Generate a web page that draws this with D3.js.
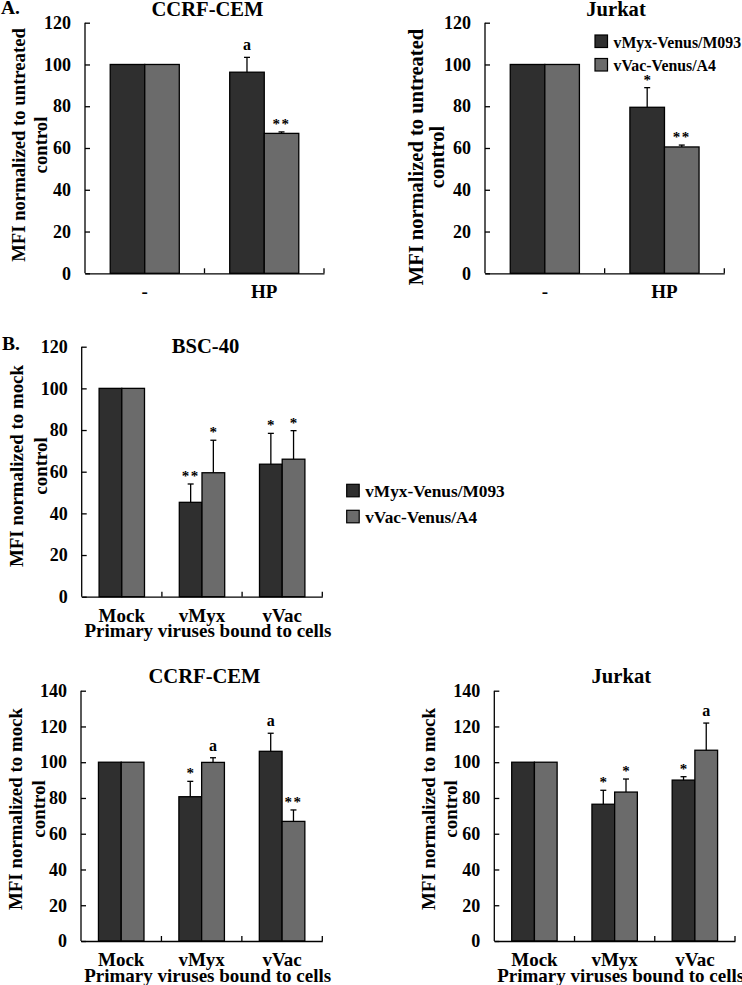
<!DOCTYPE html>
<html>
<head>
<meta charset="utf-8">
<script src="https://cdn.jsdelivr.net/npm/d3@7"></script>
<style>
  html, body { margin: 0; padding: 0; background: #fff; }
  svg { display: block; }
  text { font-family: 'Liberation Serif', 'Times New Roman', serif; font-weight: bold; fill: #000; }
</style>
</head>
<body>
<svg id="chart" width="742" height="985"></svg>
<script>
// ---------------- DATA ----------------
const seriesNames = ["vMyx-Venus/M093", "vVac-Venus/A4"];
const seriesColors = ["#2f2f2f", "#6b6b6b"];

// Panel A
const catsA = ["-", "HP"];
const ticksA = [0, 20, 40, 60, 80, 100, 120];

const ccrfA_myx = [100, 96.3];
const ccrfA_myxErr = [0, 7.1];
const ccrfA_vac = [100, 67.0];
const ccrfA_vacErr = [0, 0.7];
const ccrfA_myxSig = ["", "a"];
const ccrfA_vacSig = ["", "**"];

const jurkatA_myx = [100, 79.5];
const jurkatA_myxErr = [0, 9.4];
const jurkatA_vac = [100, 60.5];
const jurkatA_vacErr = [0, 0.9];
const jurkatA_myxSig = ["", "*"];
const jurkatA_vacSig = ["", "**"];

// Panel B
const catsB = ["Mock", "vMyx", "vVac"];
const ticksB1 = [0, 20, 40, 60, 80, 100, 120];
const ticksB2 = [0, 20, 40, 60, 80, 100, 120, 140];

const bsc_myx = [100, 45.3, 63.6];
const bsc_myxErr = [0, 8.8, 14.8];
const bsc_vac = [100, 59.5, 66.0];
const bsc_vacErr = [0, 15.6, 13.7];
const bsc_myxSig = ["", "**", "*"];
const bsc_vacSig = ["", "*", "*"];

const ccrfB_myx = [100, 80.7, 106.1];
const ccrfB_myxErr = [0, 8.6, 10.1];
const ccrfB_vac = [100, 99.9, 66.9];
const ccrfB_vacErr = [0, 2.6, 6.4];
const ccrfB_myxSig = ["", "*", "a"];
const ccrfB_vacSig = ["", "a", "**"];

const jurkatB_myx = [100, 76.5, 90.0];
const jurkatB_myxErr = [0, 7.8, 1.9];
const jurkatB_vac = [100, 83.3, 106.7];
const jurkatB_vacErr = [0, 7.3, 15.2];
const jurkatB_myxSig = ["", "*", "*"];
const jurkatB_vacSig = ["", "*", "a"];

const yTitleA = ["MFI normalized to untreated", "control"];
const yTitleB = ["MFI normalized to mock", "control"];
const xTitleB = "Primary viruses bound to cells";

// ---------------- DRAWING ----------------
const svg = d3.select("#chart");

function drawPanel(o) {
  const g = svg.append("g");
  const x = d3.scaleBand().domain(o.cats).range([o.x0, o.x1]);
  const y = d3.scaleLinear().domain([0, o.yMax]).range([o.yBottom, o.yTop]);
  const groupW = x.bandwidth() * o.barFrac;
  const xs = d3.scaleBand().domain([0, 1]).range([0, groupW]);

  const rows = [];
  o.cats.forEach((c, i) => {
    [[o.myx, o.myxErr, o.myxSig], [o.vac, o.vacErr, o.vacSig]].forEach((s, k) => {
      rows.push({cat: c, k: k, v: s[0][i], e: s[1][i], sig: s[2][i]});
    });
  });
  const bx = d => x(d.cat) + (x.bandwidth() - groupW) / 2 + xs(d.k);

  // bars
  g.selectAll("rect.bar").data(rows).join("rect")
    .attr("class", "bar")
    .attr("x", d => bx(d))
    .attr("y", d => y(d.v))
    .attr("width", xs.bandwidth())
    .attr("height", d => y(0) - y(d.v))
    .attr("fill", d => seriesColors[d.k])
    .attr("stroke", "#000")
    .attr("stroke-width", 1.3);

  // error bars
  const eb = rows.filter(d => d.e > 0);
  const cx = d => bx(d) + xs.bandwidth() / 2;
  g.selectAll("line.ev").data(eb).join("line")
    .attr("x1", cx).attr("x2", cx)
    .attr("y1", d => y(d.v)).attr("y2", d => y(d.v + d.e))
    .attr("stroke", "#000").attr("stroke-width", 1.3);
  g.selectAll("line.ec").data(eb).join("line")
    .attr("x1", d => cx(d) - 3).attr("x2", d => cx(d) + 3)
    .attr("y1", d => y(d.v + d.e)).attr("y2", d => y(d.v + d.e))
    .attr("stroke", "#000").attr("stroke-width", 1.3);

  // significance marks
  g.selectAll("text.sig").data(rows.filter(d => d.sig)).join("text")
    .attr("x", cx)
    .attr("y", d => y(d.v + d.e) - (d.sig === "a" ? 7 : 3))
    .attr("text-anchor", "middle")
    .style("font-size", d => d.sig === "a" ? "16px" : "15px")
    .style("letter-spacing", d => d.sig === "**" ? "1.5px" : "0px")
    .text(d => d.sig);

  // y axis (ticks inside)
  const ya = g.append("g").attr("transform", `translate(${o.x0},0)`)
    .call(d3.axisLeft(y).tickValues(o.ticks).tickSize(-5).tickSizeOuter(0).tickPadding(14));
  ya.select(".domain").attr("stroke-width", 1.3).attr("d", `M0,${o.yBottom}V${o.yTop}`);
  ya.selectAll(".tick line").attr("stroke-width", 1.3);
  ya.selectAll(".tick text").style("font-size", o.tickFont + "px")
    .style("font-family", "'Liberation Serif', serif").style("font-weight", "bold");

  // x axis
  const xa = g.append("g").attr("transform", `translate(0,${o.yBottom})`)
    .call(d3.axisBottom(x).tickSize(0).tickSizeOuter(0));
  xa.select(".domain").attr("stroke-width", 1.3);
  xa.selectAll(".tick text").attr("y", 25).attr("dy", 0)
    .style("font-size", o.xFont + "px")
    .style("font-family", "'Liberation Serif', serif").style("font-weight", "bold");
  g.selectAll("line.xt").data(o.cats).join("line")
    .attr("x1", c => x(c) + x.bandwidth()).attr("x2", c => x(c) + x.bandwidth())
    .attr("y1", o.yBottom).attr("y2", o.yBottom - 5)
    .attr("stroke", "#000").attr("stroke-width", 1.3);

  if (o.xTitle) {
    g.append("text").attr("x", (o.x0 + o.x1) / 2 + 6).attr("y", o.yBottom + 40.5)
      .attr("text-anchor", "middle").style("font-size", o.xFont + "px").text(o.xTitle);
  }

  // title
  g.append("text").attr("x", o.titleX).attr("y", o.titleY)
    .attr("text-anchor", "middle").style("font-size", o.titleFont + "px").text(o.title);

  // y title
  o.yTitle.forEach((t, i) => {
    g.append("text")
      .attr("transform", `translate(${o.yTitleX[i]},${o.yTitleCY}) rotate(-90)`)
      .attr("text-anchor", "middle").style("font-size", o.yTitleFont + "px").text(t);
  });
}

function drawLegend(x0, y0, gap, size, font) {
  const g = svg.append("g");
  g.selectAll("rect").data(seriesNames).join("rect")
    .attr("x", x0).attr("y", (d, i) => y0 + i * gap)
    .attr("width", size).attr("height", size)
    .attr("fill", (d, i) => seriesColors[i]).attr("stroke", "#000").attr("stroke-width", 1.2);
  g.selectAll("text").data(seriesNames).join("text")
    .attr("x", x0 + size + 6).attr("y", (d, i) => y0 + i * gap + size)
    .style("font-size", font + "px").text(d => d);
}

// A left: CCRF-CEM
drawPanel({x0: 85, x1: 324, yTop: 22.7, yBottom: 273.3, yMax: 120, ticks: ticksA, cats: catsA,
  myx: ccrfA_myx, myxErr: ccrfA_myxErr, vac: ccrfA_vac, vacErr: ccrfA_vacErr,
  myxSig: ccrfA_myxSig, vacSig: ccrfA_vacSig, barFrac: 0.578,
  title: "CCRF-CEM", titleX: 207.5, titleY: 15.5, titleFont: 20.6,
  yTitle: yTitleA, yTitleX: [25, 46.7], yTitleCY: 145, yTitleFont: 18.7,
  tickFont: 18, xFont: 19});

// A right: Jurkat
drawPanel({x0: 485, x1: 724.3, yTop: 22.7, yBottom: 273.3, yMax: 120, ticks: ticksA, cats: catsA,
  myx: jurkatA_myx, myxErr: jurkatA_myxErr, vac: jurkatA_vac, vacErr: jurkatA_vacErr,
  myxSig: jurkatA_myxSig, vacSig: jurkatA_vacSig, barFrac: 0.578,
  title: "Jurkat", titleX: 616, titleY: 15.5, titleFont: 20.6,
  yTitle: yTitleA, yTitleX: [423.3, 443.5], yTitleCY: 157, yTitleFont: 20.5,
  tickFont: 18, xFont: 19});

// B: BSC-40
drawPanel({x0: 81.7, x1: 322.3, yTop: 346.7, yBottom: 596.7, yMax: 120, ticks: ticksB1, cats: catsB,
  myx: bsc_myx, myxErr: bsc_myxErr, vac: bsc_vac, vacErr: bsc_vacErr,
  myxSig: bsc_myxSig, vacSig: bsc_vacSig, barFrac: 0.566,
  title: "BSC-40", titleX: 205.5, titleY: 353, titleFont: 20.6,
  yTitle: yTitleB, yTitleX: [23.3, 46.7], yTitleCY: 466, yTitleFont: 18.9,
  tickFont: 18, xFont: 19, xTitle: xTitleB});

// B: CCRF-CEM
drawPanel({x0: 81, x1: 322.3, yTop: 690.7, yBottom: 941, yMax: 140, ticks: ticksB2, cats: catsB,
  myx: ccrfB_myx, myxErr: ccrfB_myxErr, vac: ccrfB_vac, vacErr: ccrfB_vacErr,
  myxSig: ccrfB_myxSig, vacSig: ccrfB_vacSig, barFrac: 0.566,
  title: "CCRF-CEM", titleX: 204.5, titleY: 683, titleFont: 20.6,
  yTitle: yTitleB, yTitleX: [21.7, 45], yTitleCY: 809, yTitleFont: 18.9,
  tickFont: 18, xFont: 19, xTitle: xTitleB});

// B: Jurkat
drawPanel({x0: 494.3, x1: 735, yTop: 690.7, yBottom: 941, yMax: 140, ticks: ticksB2, cats: catsB,
  myx: jurkatB_myx, myxErr: jurkatB_myxErr, vac: jurkatB_vac, vacErr: jurkatB_vacErr,
  myxSig: jurkatB_myxSig, vacSig: jurkatB_vacSig, barFrac: 0.566,
  title: "Jurkat", titleX: 621.3, titleY: 683, titleFont: 20.6,
  yTitle: yTitleB, yTitleX: [435, 457.3], yTitleCY: 809, yTitleFont: 18.9,
  tickFont: 18, xFont: 19, xTitle: xTitleB});

// Legends
drawLegend(595, 35, 23.5, 12.5, 15.8);
drawLegend(346.7, 484.3, 26, 12.5, 17.3);

// Panel labels
svg.append("text").attr("x", 1).attr("y", 13.5).style("font-size", "19.5px").text("A.");
svg.append("text").attr("x", 2).attr("y", 350).style("font-size", "19.5px").text("B.");
</script>
</body>
</html>
